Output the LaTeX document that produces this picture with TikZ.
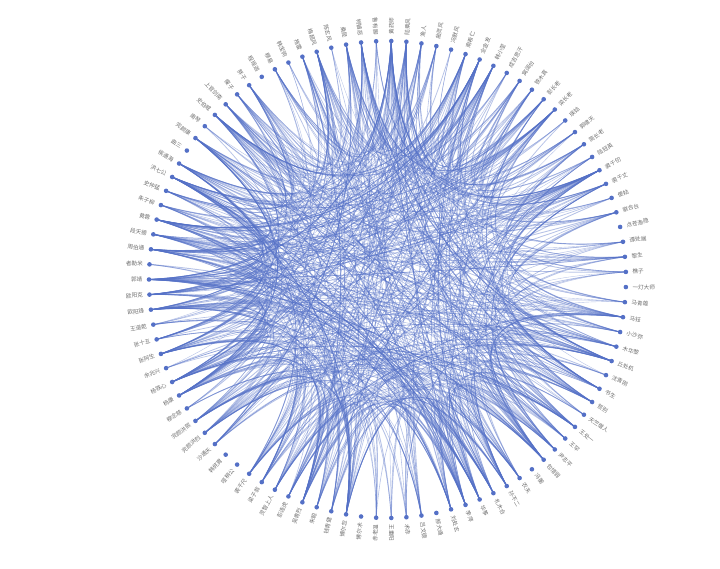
\documentclass[tikz,border=0pt]{standalone}
\usepackage{fontspec}
\newfontfamily\cjk{Noto Sans CJK SC}
\usetikzlibrary{calc}
\definecolor{eblue}{HTML}{5470C6}
\definecolor{lbl}{HTML}{6E6E6E}
\pgfdeclarelayer{bg}
\pgfsetlayers{bg,main}
\begin{document}
\begin{tikzpicture}[x=1pt,y=1pt,
  dot/.style={circle,fill=eblue,inner sep=0pt,minimum size=4.6pt},
  lab/.style={font=\cjk\fontsize{5.6}{6}\selectfont,text=lbl,inner sep=0pt},
  link/.style={draw=eblue,draw opacity=0.42,line width=0.55pt}]
\useasboundingbox (0,0) rectangle (720,569);
\coordinate (c) at (387.5,289.5);
\foreach \k/\nm in {1/胖子,2/程瑶迦,3/穆易,4/韩宝驹,5/拖雷,6/梅超风,7/陈玄风,8/桑昆,9/柯镇恶,10/鲁有脚,
 11/黄药师,12/陆乘风,13/渔人,14/曲灵风,15/冯默风,16/南希仁,17/全金发,18/韩小莹,19/成吉思汗,20/窝阔台,
 21/铁木真,22/彭长老,23/梁长老,24/瑛姑,25/郭啸天,26/简长老,27/陆冠英,28/裘千仞,29/裘千丈,30/傻姑,
 31/察合台,32/点苍渔隐,33/谭处端,34/黎生,35/樵子,36/一灯大师,37/马青雄,38/马钰,39/小沙弥,40/木华黎,
 41/丘处机,42/沈青刚,43/书生,44/哲别,45/天竺僧人,46/王处一,47/王罕,48/尹志平,49/包惜弱,50/冯蘅,
 51/农夫,52/孙不二,53/札木合,54/华筝,55/李萍,56/刘处玄,57/郝大通,58/吕文德,59/术赤,60/王重阳,
 61/赤老温,62/博尔术,63/博尔忽,64/钱青健,65/朱聪,66/吴青烈,67/彭连虎,68/灵智上人,69/梁子翁,70/裘千尺,
 71/哑梢公,72/韩侂胄,73/沙通天,74/完颜洪烈,75/完颜洪熙,76/穆念慈,77/杨康,78/杨铁心,79/余兆兴,80/张阿生,
 81/张十五,82/王道乾,83/欧阳锋,84/欧阳克,85/郭靖,86/者勒米,87/周伯通,88/段天德,89/黄蓉,90/朱子柳,
 91/史仲猛,92/洪七公,93/侯通海,94/曲三,95/完颜康,96/南琴,97/史伯威,98/上官剑南,99/瘦子} {
  \pgfmathsetmacro{\ang}{180-(\k-85)*3.636364}
  \node[dot] (n\k) at ($(c)+(\ang:238.5)$) {};
  \pgfmathsetmacro{\cs}{cos(\ang)}
  \ifdim \cs pt<0pt
    \node[lab,anchor=east,rotate=\ang+180] (t\k) at ($(c)+(\ang:245)$) {\nm};
  \else
    \node[lab,anchor=west,rotate=\ang] (t\k) at ($(c)+(\ang:245)$) {\nm};
  \fi
}
\pgfmathdeclarerandomlist{hubs}{{1}{1}{1}{6}{6}{6}{8}{8}{8}{9}{9}{9}{11}{11}{11}{11}{12}{12}{12}{16}{16}{16}{17}{17}{17}{18}{18}{18}{23}{23}{23}{28}{28}{28}{38}{38}{38}{41}{41}{41}{44}{44}{44}{46}{46}{46}{49}{49}{49}{52}{52}{52}{53}{53}{53}{54}{54}{54}{55}{55}{55}{56}{56}{56}{63}{63}{63}{66}{66}{66}{70}{70}{70}{77}{77}{77}{78}{78}{78}{80}{80}{80}{83}{83}{83}{83}{84}{84}{84}{85}{85}{85}{85}{87}{87}{87}{87}{88}{88}{88}{89}{89}{89}{89}{92}{92}{92}{92}{93}{93}{93}{95}{95}{95}{97}{97}{97}{3}{3}{5}{5}{13}{13}{14}{14}{20}{20}{21}{21}{22}{22}{25}{25}{26}{26}{27}{27}{29}{29}{31}{31}{33}{33}{34}{34}{35}{35}{39}{39}{40}{40}{43}{43}{47}{47}{48}{48}{51}{51}{58}{58}{64}{64}{65}{65}{67}{67}{68}{68}{69}{69}{73}{73}{74}{74}{75}{75}{81}{81}{90}{90}{91}{91}{98}{98}{99}{99}{4}{7}{10}{15}{19}{24}{30}{37}{42}{45}{59}{60}{61}{76}{79}{82}{86}{96}}
\pgfmathsetseed{2024}
\begin{pgfonlayer}{bg}
\foreach \k/\cnt in {1/15,3/7,4/2,5/7,6/15,7/1,8/15,9/15,10/2,11/20,12/15,13/7,14/7,15/1,16/15,17/15,18/15,19/1,20/7,
 21/7,22/7,23/15,24/2,25/7,26/7,27/7,28/15,29/7,30/2,31/7,33/7,34/7,35/7,37/2,38/15,39/7,40/7,41/15,42/2,43/7,
 44/15,45/2,46/15,47/7,48/7,49/15,51/7,52/15,53/15,54/15,55/15,56/15,58/7,59/2,60/2,61/2,63/15,64/7,65/7,66/15,67/7,
 68/7,69/7,70/15,73/7,74/7,75/7,76/2,77/15,78/15,79/2,80/15,81/7,82/2,83/20,84/15,85/22,86/1,87/20,88/15,89/20,
 90/7,91/7,92/20,93/15,95/15,97/15,98/7,99/7} {
  \foreach \r in {1,...,\cnt} {
    \pgfmathrandomitem{\j}{hubs}
    \pgfmathsetmacro{\lw}{0.35+0.6*rnd}
    \ifnum\j=\k\relax\else
      \coordinate (cp) at ($($(n\k.center)!0.5!(n\j.center)$)!0.9!(c)$);
      \draw[link,line width=\lw pt] (n\k.center) .. controls ($(n\k.center)!0.6667!(cp)$) and ($(n\j.center)!0.6667!(cp)$) .. (n\j.center);
    \fi
  }
}
\end{pgfonlayer}
\end{tikzpicture}
\end{document}
